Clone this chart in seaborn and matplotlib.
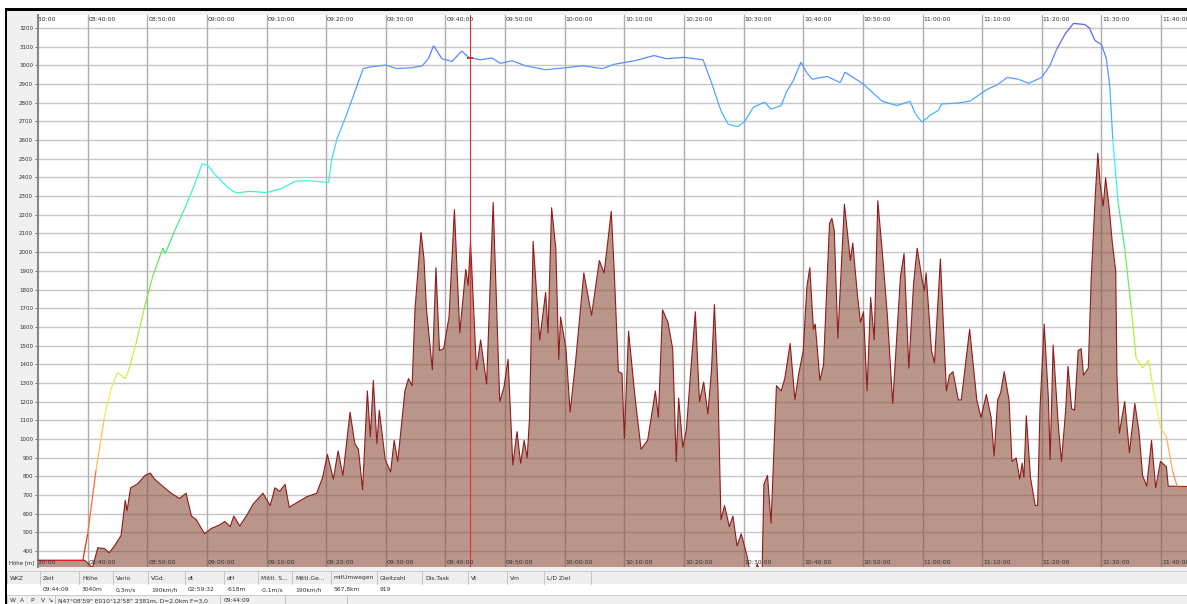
import numpy as np
import matplotlib
matplotlib.use("Agg")
import matplotlib.pyplot as plt
import seaborn as sns
import pandas as pd
from matplotlib.collections import LineCollection
from matplotlib.colors import LinearSegmentedColormap, Normalize
from matplotlib.patches import Rectangle

# ---------------- data (time = minutes after 08:30:00) ----------------
flight_t = [1.6, 9.2, 10.0, 11.4, 12.8, 13.9, 15.0, 16.3, 16.8, 18.1, 19.5, 20.9, 22.6, 23.0,
            24.6, 26.2, 27.9, 29.2, 30.2, 31.3, 33.9, 35.0, 37.2, 40.0, 42.5, 44.8, 46.7, 48.4,
            50.4, 50.9, 51.8, 53.2, 54.6, 56.2, 57.4, 60.0, 61.8, 64.1, 66.1, 67.2, 68.0, 69.4,
            71.1, 72.7, 73.9, 75.9, 77.8, 79.2, 81.2, 83.4, 86.8, 90.0, 93.0, 96.3, 98.3, 101.7,
            105.0, 107.0, 110.0, 113.2, 114.6, 116.2, 117.4, 119.0, 120.2, 121.6, 123.5, 124.6,
            126.3, 127.2, 128.3, 129.6, 130.6, 131.5, 134.0, 136.2, 137.0, 140.0, 143.2, 145.7,
            147.9, 148.8, 149.9, 151.3, 152.7, 153.2, 155.8, 158.0, 160.7, 162.6, 164.2, 166.1,
            167.8, 170.0, 171.4, 172.5, 173.9, 175.3, 177.2, 178.0, 178.9, 180.0, 180.8, 181.4,
            181.9, 182.8, 183.9, 185.0, 185.8, 186.9, 187.9, 188.8, 189.9, 190.9, 191.9, 192.7,
            194.4]
flight_alt = [350, 350, 492, 832, 1115, 1266, 1355, 1323, 1360, 1511, 1700, 1870, 2021, 1992,
              2115, 2228, 2360, 2474, 2464, 2417, 2335, 2317, 2326, 2319, 2341, 2379, 2383, 2379,
              2373, 2492, 2606, 2719, 2841, 2983, 2992, 3002, 2983, 2987, 2997, 3040, 3106, 3036,
              3021, 3077, 3043, 3030, 3040, 3011, 3025, 2998, 2977, 2987, 2998, 2983, 3006, 3025,
              3053, 3036, 3043, 3030, 2908, 2757, 2685, 2672, 2700, 2775, 2804, 2766,
              2785, 2860, 2917, 3017, 2960, 2926, 2941, 2908, 2964, 2902, 2809, 2785,
              2808, 2741, 2696, 2734, 2760, 2794, 2798, 2809, 2870, 2897, 2936, 2926,
              2904, 2936, 3002, 3087, 3168, 3225, 3219, 3200, 3134, 3111, 3040, 2889,
              2606, 2266, 2021, 1700, 1436, 1379, 1421, 1247, 1058, 1011, 832, 745,
              745]

terrain_t = [1.6, 9.5, 10.2, 10.8, 11.7, 12.8, 13.6, 14.5, 15.6, 16.3, 16.6, 17.2, 18.4, 19.6,
             20.5, 21.2, 22.9, 24.0, 25.4, 26.5, 27.4, 28.2, 29.6, 30.7, 32.1, 33.0, 33.9, 34.5,
             35.5, 36.6, 37.8, 39.4, 40.6, 41.4, 42.2, 43.1, 43.8, 46.7, 48.4, 49.4, 50.2, 51.2,
             52.0, 52.8, 54.0, 54.8, 55.4, 56.1, 56.9, 57.4, 57.9, 58.5, 58.9, 59.9, 60.8, 61.4,
             62.0, 63.2, 63.8, 64.4, 64.9, 65.9, 66.4, 66.8, 67.8, 68.4, 69.0, 69.7, 70.6, 71.5,
             72.4, 73.4, 73.8, 74.2, 75.2, 75.9, 76.9, 78.0, 79.1, 79.8, 80.5, 81.3, 82.0, 82.6,
             83.2, 83.7, 84.1, 84.7, 85.8, 86.8, 87.2, 87.8, 88.5, 89.0, 89.3, 90.2, 90.9, 91.8,
             93.2, 94.5, 95.8, 96.6, 97.2, 97.8, 98.3, 99.0, 99.6, 100.0, 100.7, 101.8, 102.8,
             103.9, 105.2, 105.7, 106.4, 107.3, 108.1, 108.7, 109.1, 109.8, 110.4, 111.1, 111.9,
             112.6, 113.3, 114.0, 114.6, 115.1, 115.7, 116.2, 116.8, 117.6, 118.2, 118.9, 119.6,
             120.6, 121.0, 122.0, 122.3, 122.6, 123.1, 123.4, 124.0, 124.6, 125.5, 126.3, 126.9,
             127.8, 128.6, 129.2, 130.0, 130.6, 131.1, 131.7, 132.0, 132.8, 133.4, 134.4, 134.8,
             135.2, 135.8, 136.9, 137.9, 138.3, 139.1, 139.6, 140.1, 140.7, 141.3, 141.9, 142.5,
             143.4, 144.1, 145.0, 146.3, 146.9, 147.7, 148.5, 149.1, 149.9, 150.3, 150.6, 151.5,
             152.0, 153.0, 154.0, 154.5, 155.1, 156.0, 156.5, 157.9, 159.1, 159.8, 160.7, 161.5,
             162.0, 162.6, 163.1, 163.7, 164.5, 165.0, 165.7, 166.3, 166.7, 167.0, 167.4, 168.1,
             168.9, 169.3, 169.7, 170.4, 171.1, 171.4, 171.9, 172.8, 173.3, 174.0, 174.4, 175.0,
             175.5, 176.1, 176.6, 177.0, 177.8, 178.3, 179.0, 179.4, 179.8, 180.3, 180.7, 181.3,
             181.8, 182.4, 182.6, 183.0, 183.9, 184.7, 185.6, 186.3, 186.9, 187.6, 188.4, 189.1,
             189.9, 190.9, 191.2, 194.4]
terrain_alt = [350, 350, 330, 310, 417, 413, 390, 427, 483, 671, 615, 738, 760, 804,
               817, 785, 738, 709, 681, 709, 587, 568, 492, 520, 539, 558, 530, 587,
               534, 587, 653, 709, 643, 738, 719, 757, 634, 690, 709, 794, 917, 785,
               936, 804, 1143, 974, 945, 728, 1257, 1011, 1313, 974, 1153, 889, 823, 992,
               879, 1257, 1323, 1285, 1700, 2106, 1964, 1700, 1370, 1917, 1473, 1483, 1653, 2228,
               1568, 1908, 1823, 2058, 1370, 1530, 1294, 2266, 1200, 1275, 1426, 860, 1039, 870,
               992, 898, 1115, 2058, 1530, 1785, 1568, 2238, 2021, 1426, 1653, 1483, 1143, 1407,
               1889, 1662, 1955, 1889, 2049, 2219, 1898, 1360, 1351, 1002, 1577, 1219, 945,
               992, 1257, 1115, 1691, 1625, 1483, 879, 1219, 955, 1049, 1351, 1681,
               1200, 1304, 1134, 1360, 1719, 1266, 568, 643, 530, 587, 427, 492,
               370, 300, 300, 330, 300, 300, 757, 804, 549, 1285, 1257, 1323,
               1511, 1209, 1341, 1473, 1813, 1917, 1587, 1615, 1313, 1398, 2153, 2181,
               2115, 1540, 2257, 1955, 2049, 1766, 1625, 1681, 1257, 1757, 1530, 2275,
               1945, 1662, 1190, 1870, 1992, 1379, 1832, 2021, 1860, 1794, 1889, 1473,
               1407, 1964, 1257, 1341, 1360, 1209, 1209, 1587, 1209, 1115, 1238, 1115,
               908, 1209, 1247, 1360, 1209, 879, 898, 785, 870, 794, 1124, 794,
               643, 643, 1162, 1615, 1219, 889, 1502, 1058, 879, 1153, 1389, 1162,
               1153, 1473, 1483, 1341, 1379, 1870, 2323, 2530, 2360, 2247, 2398, 2238,
               2058, 1898, 1341, 1030, 1200, 926, 1190, 1039, 804, 747, 992, 738,
               879, 851, 747, 745]

time_ticks = [0, 10, 20, 30, 40, 50, 60, 70, 80, 90, 100, 110, 120, 130, 140, 150, 160, 170, 180, 190]
time_labels = ["08:30:00", "08:40:00", "08:50:00", "09:00:00", "09:10:00", "09:20:00", "09:30:00",
               "09:40:00", "09:50:00", "10:00:00", "10:10:00", "10:20:00", "10:30:00", "10:40:00",
               "10:50:00", "11:00:00", "11:10:00", "11:20:00", "11:30:00", "11:40:00"]
alt_ticks = list(range(400, 3300, 100))
cursor_t = 74.15  # 09:44:09

header_labels = ["WKZ", "Zeit", "Höhe", "Vario", "VGd.", "dt", "dH", "Mittl. S...", "Mittl.Ge...",
                 "mitUmwegen", "Gleitzahl", "Dis.Task", "Vt", "Vm", "L/D Ziel"]
value_labels = ["", "09:44:09", "3040m", "0,3m/s", "190km/h", "02:59:32", "-618m", "-0,1m/s",
                "190km/h", "567,8km", "919", "", "", "", ""]
status_labels = ["W", "A", "P", "V"]
status_text = "N47°08'59\" E010°12'58\" 2381m, D=2,0km F=3,0"
status_time = "09:44:09"

# ---------------- style ----------------
sns.set_style("white")
plt.rcParams["font.family"] = ["DejaVu Sans"]

W, H = 1187, 604
fig = plt.figure(figsize=(W / 100, H / 100), dpi=100)
fig.patch.set_facecolor("white")

# background / frame axes in pixel coordinates
bg = fig.add_axes([0, 0, 1, 1], zorder=-5)
bg.set_xlim(0, W)
bg.set_ylim(H, 0)
bg.axis("off")
bg.add_patch(Rectangle((7, 11), W - 7, H - 11, facecolor="#f0f0f0", edgecolor="none"))
bg.add_patch(Rectangle((5, 8), W - 5, 3, facecolor="black", edgecolor="none"))
bg.add_patch(Rectangle((5, 8), 2, H - 8, facecolor="black", edgecolor="none"))

# table header row
bg.add_patch(Rectangle((7, 571), W - 7, 13, facecolor="#eeeeee", edgecolor="#c8c8c8", lw=0.6))
bg.add_patch(Rectangle((7, 584), W - 7, 11, facecolor="white", edgecolor="none"))
bg.add_patch(Rectangle((7, 595), W - 7, 9, facecolor="#f0f0f0", edgecolor="#c8c8c8", lw=0.6))
col_x = [7, 40, 79, 113, 148, 185, 224, 258, 292, 331, 377, 422, 468, 507, 544, 591]
for cx in col_x[1:]:
    bg.plot([cx, cx], [571, 584], color="#c4c4c4", lw=0.7)
for i, lab in enumerate(header_labels):
    bg.text(col_x[i] + 3, 578, lab, fontsize=4.3, color="#303030", va="center", ha="left")
for i, lab in enumerate(value_labels):
    if lab:
        bg.text(col_x[i] + 3, 589.5, lab, fontsize=4.3, color="#303030", va="center", ha="left")
for i, lab in enumerate(status_labels):
    bg.text(10 + i * 10.3, 601, lab, fontsize=4.3, color="#303030", va="center", ha="left")
bg.text(47, 600.5, "↘", fontsize=4.5, color="#303030", va="center", ha="left")
bg.text(58, 601, status_text, fontsize=4.3, color="#303030", va="center", ha="left")
bg.text(224, 601, status_time, fontsize=4.3, color="#303030", va="center", ha="left")
for sx in [55, 220, 285, 347]:
    bg.plot([sx, sx], [596, 604], color="#c0c0c0", lw=0.7)
bg.text(9, 563, "Höhe [m]", fontsize=3.9, color="#303030", va="center", ha="left")

# ---------------- main chart ----------------
ax_left, ax_top, ax_bottom = 38, 15, 567
ax = fig.add_axes([ax_left / W, (H - ax_bottom) / H, (W - ax_left) / W, (ax_bottom - ax_top) / H])
ax.set_facecolor("white")
x_min, x_max = 1.67, 194.35
y_min, y_max = 314, 3270
ax.set_xlim(x_min, x_max)
ax.set_ylim(y_min, y_max)

# gridlines
for a in alt_ticks:
    ax.axhline(a, color="#c6c6c6", lw=1.0, zorder=1)
for t in time_ticks:
    ax.axvline(t, color="#adadad", lw=1.0, zorder=1)

# terrain
ter = pd.DataFrame({"t": terrain_t, "alt": terrain_alt})
ax.fill_between(ter["t"], 0, ter["alt"], facecolor=(0.545, 0.31, 0.235), alpha=0.6,
                edgecolor="none", zorder=2)
sns.lineplot(data=ter, x="t", y="alt", ax=ax, color="#8e1c1c", lw=0.8, zorder=3,
             estimator=None, sort=False)

# flight altitude coloured by height
cmap = LinearSegmentedColormap.from_list("alt", [
    (0.0, "#e41e1e"), (0.086, "#ff5a2a"), (0.19, "#ffa860"), (0.276, "#f4ee50"),
    (0.379, "#c8f040"), (0.483, "#90ea40"), (0.586, "#50e070"), (0.672, "#40f0c0"),
    (0.724, "#40f0f0"), (0.793, "#40c8ff"), (0.845, "#48acff"), (0.914, "#5a92ff"),
    (1.0, "#5a50ff")])
norm = Normalize(350, 3250)
fx = np.array(flight_t, dtype=float)
fy = np.array(flight_alt, dtype=float)
pts = np.column_stack([fx, fy]).reshape(-1, 1, 2)
segs = np.concatenate([pts[:-1], pts[1:]], axis=1)
mid = (fy[:-1] + fy[1:]) / 2
lc = LineCollection(segs, colors=cmap(norm(mid)), linewidths=0.9, zorder=4)
ax.add_collection(lc)

# cursor
ax.axvline(cursor_t, color="#e03030", lw=0.8, zorder=5)
ax.plot([cursor_t], [np.interp(cursor_t, fx, fy)], marker="_", color="#e02020", ms=5, mew=1.4, zorder=6)

# time labels inside top & bottom of plot
for t, lab in zip(time_ticks, time_labels):
    ax.text(t + 0.15, 0.997, lab, transform=ax.get_xaxis_transform(), fontsize=4.4,
            color="#303030", ha="left", va="top", clip_on=True, zorder=7)
    ax.text(t + 0.15, 0.003, lab, transform=ax.get_xaxis_transform(), fontsize=4.4,
            color="#303030", ha="left", va="bottom", clip_on=True, zorder=7)

ax.set_xticks([])
ax.set_yticks(alt_ticks)
ax.set_yticklabels([str(a) for a in alt_ticks], fontsize=4.0, color="#303030")
ax.tick_params(axis="y", length=2, width=0.6, color="#555555", pad=1.5, left=True)
ax.set_xlabel("")
ax.set_ylabel("")
for s in ["top", "right", "bottom"]:
    ax.spines[s].set_visible(False)
ax.spines["left"].set_color("#888888")
ax.spines["left"].set_linewidth(1.5)

fig.savefig("out.png", dpi=100)
